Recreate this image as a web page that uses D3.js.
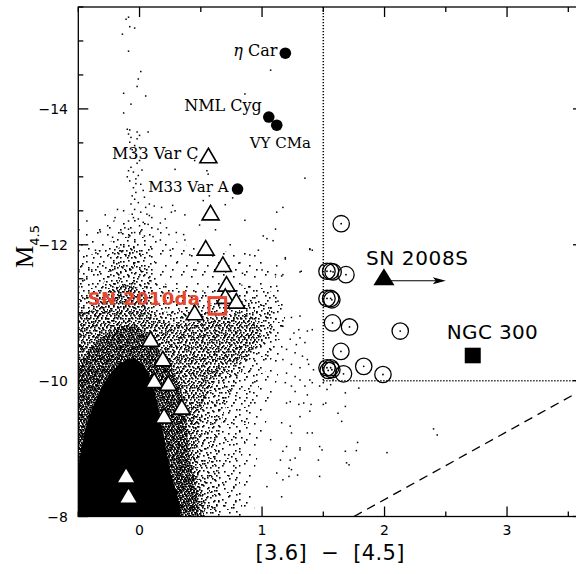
<!DOCTYPE html>
<html><head><meta charset="utf-8">
<script src="https://cdn.jsdelivr.net/npm/d3@7"></script>
<style>html,body{margin:0;padding:0;background:#fff}svg{display:block}</style>
</head><body><svg id="c" width="576" height="574"></svg>
<script>
// ---------------- data ----------------
const xDomain = [-0.5, 3.62];
const yDomain = [-8, -15.5];
const xTicksMajor = [0, 1, 2, 3];
const xTicksMinor = [-0.5, 0.5, 1.5, 2.5, 3.5];
const yTicksMajor = [-8, -10, -12, -14];
const yTicksMinor = [-8.5, -9, -9.5, -10.5, -11, -11.5, -12.5, -13, -13.5, -14.5, -15, -15.5];

// iso-density envelopes of the field-star cloud (data coords), faintest -> solid core
const levelA = [[-0.56,-7.9],[-0.56,-12.25],[-0.38,-12.2],[-0.22,-12.35],[-0.06,-12.45],[0.10,-12.35],[0.25,-12.1],[0.45,-11.95],[0.70,-11.9],[0.95,-11.85],[1.12,-11.5],[1.18,-11.0],[1.17,-10.5],[1.12,-10.0],[1.05,-9.5],[0.98,-9.0],[0.92,-8.5],[0.90,-7.9]];
const levelB = [[-0.56,-7.9],[-0.56,-11.78],[-0.40,-11.85],[-0.22,-12.07],[-0.12,-12.19],[0.09,-12.07],[0.17,-11.48],[0.49,-11.33],[0.90,-11.41],[1.11,-11.26],[1.19,-10.89],[1.11,-10.45],[0.98,-9.94],[0.90,-9.42],[0.82,-8.68],[0.79,-7.9]];
const levelC = [[-0.56,-7.9],[-0.56,-11.19],[-0.36,-11.33],[-0.28,-11.48],[-0.22,-11.85],[-0.12,-12.0],[0.0,-11.92],[0.09,-11.48],[0.17,-11.04],[0.49,-11.11],[0.90,-11.19],[1.08,-11.04],[1.08,-10.67],[0.90,-10.30],[0.74,-9.79],[0.64,-9.13],[0.59,-7.9]];
const levelD = [[-0.56,-7.9],[-0.56,-10.9],[-0.38,-11.05],[-0.26,-11.30],[-0.16,-11.40],[0.0,-11.35],[0.09,-11.0],[0.25,-10.85],[0.58,-10.9],[0.90,-10.95],[1.00,-10.70],[0.86,-10.35],[0.62,-10.0],[0.50,-9.45],[0.48,-8.7],[0.50,-7.9]];
const levelE = [[-0.56,-7.9],[-0.56,-10.0],[-0.44,-10.40],[-0.30,-10.65],[-0.14,-10.80],[0.02,-10.75],[0.14,-10.50],[0.26,-10.2],[0.36,-9.7],[0.40,-9.0],[0.44,-7.9]];
const levelF = [[-0.52,-7.9],[-0.50,-8.7],[-0.44,-9.3],[-0.36,-9.7],[-0.26,-10.05],[-0.14,-10.27],[-0.04,-10.32],[0.05,-10.18],[0.12,-9.85],[0.18,-9.35],[0.24,-8.75],[0.31,-7.9]];

// individual field stars outside the dense cloud
const fieldStars = [
[-0.09,-15.35],[-0.11,-15.32],[-0.08,-15.21],[-0.04,-15.19],[-0.14,-15.10],[-0.09,-14.85],[0.01,-14.55],[-0.01,-14.44],[-0.02,-14.33],[0.05,-14.19],[-0.13,-14.23],[-0.07,-14.07],[-0.13,-13.94],[-0.10,-13.70],[-0.08,-13.69],[-0.02,-13.66],[0.00,-13.61],[0.07,-13.66],[-0.09,-13.63],[-0.07,-13.58],[-0.02,-13.56],[-0.08,-13.51],[-0.04,-13.46],[0.00,-13.43],[-0.05,-13.36],[-0.03,-13.31],[0.00,-13.24],[-0.07,-13.14],[-0.09,-13.09],[-0.05,-13.07],[-0.01,-13.02],[-0.03,-12.97],[-0.08,-12.94],[0.01,-12.89],[-0.05,-12.84],[-0.03,-12.77],[-0.06,-12.72],[-0.04,-12.67],[-0.01,-12.62],[0.08,-12.60],[0.12,-12.57],[-0.18,-12.52],[-0.13,-12.50],[-0.04,-12.52],[0.01,-12.48],[0.06,-12.45],[0.08,-12.43],[-0.05,-12.40],[-0.01,-12.38],[-0.09,-12.35],[0.03,-12.33],[0.07,-12.30],[0.21,-12.38],[0.26,-12.48],[0.29,-12.50],[-0.43,-12.35],[-0.09,-12.23],[-0.04,-12.18],[0.01,-12.20],[0.15,-12.23],[0.22,-12.25],[0.30,-12.18],[0.36,-12.15],[-0.22,-12.11],[-0.09,-12.11],[0.04,-12.13],[0.11,-12.12],
[-0.06,-13.40],[-0.02,-13.20],[-0.10,-13.00],[0.03,-12.80],[-0.07,-12.60],[0.04,-12.70],[-0.12,-12.25],[0.00,-12.28],[0.10,-12.40],[-0.15,-12.18],[0.05,-12.55],[-0.03,-12.90],[0.02,-13.10],[-0.06,-12.45],[0.17,-12.32],[-0.26,-12.28],[-0.20,-12.40],[0.24,-12.15],[0.18,-12.55],
[0.29,-13.11],[0.55,-13.09],[0.56,-13.04],[0.45,-13.24],[0.57,-12.72],[0.52,-12.65],
[1.07,-14.57],[0.86,-14.22],[1.17,-12.55],[1.12,-12.48],[1.11,-12.23],[1.01,-12.13],[1.04,-12.09],[1.19,-11.81],[1.12,-11.69],[1.17,-11.56],[1.12,-11.39],
[1.35,-12.98],[1.39,-11.94],[1.41,-11.92],[1.32,-11.61],
[0.74,-12.00],[0.81,-11.73],[0.84,-11.58],[0.90,-11.85],[0.97,-11.92],[1.00,-11.63],[0.41,-11.85],[0.31,-11.75],[0.25,-11.92],[0.46,-11.63],[0.37,-12.07],[0.62,-12.22],[0.17,-12.07],[0.49,-12.29],[0.86,-12.36],[0.27,-12.58],[0.37,-12.44],[0.70,-12.59],[0.76,-12.69],
[-0.36,-11.92],[-0.32,-12.19],[-0.39,-11.63],[-0.45,-11.48],[-0.28,-12.44],
[1.24,-10.93],[1.31,-10.95],[1.17,-10.80],[1.26,-10.70],[1.30,-10.75],[1.23,-10.61],[1.28,-10.53],[1.20,-10.46],[1.27,-10.41],[1.33,-10.36],[1.17,-10.31],[1.24,-10.24],[1.31,-10.19],[1.38,-10.24],[1.41,-10.75],[1.35,-10.56],[1.20,-10.11],[1.27,-10.06],[1.19,-9.97],[1.24,-9.92],[1.31,-10.01],[1.35,-9.92],[1.41,-9.97],[1.42,-10.16],[1.47,-9.92],[1.50,-9.97],[1.53,-9.87],[1.56,-9.94],[1.58,-10.01],[1.68,-9.82],[1.79,-9.89],[1.37,-9.79],[1.23,-9.69],[1.30,-9.65],[1.40,-9.65],[1.50,-9.65],[1.39,-9.55],[1.62,-9.52],[1.68,-9.62],[1.65,-9.40],[1.16,-9.38],[1.23,-9.33],[1.41,-9.23],[1.31,-8.98],[1.17,-8.96],[1.27,-8.86],[1.22,-8.71],[1.24,-8.69],[1.46,-8.83],[1.49,-8.98],[1.68,-8.96],[1.78,-9.09],[1.77,-8.97],[1.69,-8.79],[1.71,-8.76],[2.02,-8.94],[2.40,-9.29],[2.43,-9.20],[1.29,-8.61],[1.17,-8.54],[1.47,-8.59],
[1.09,-12.06],[1.19,-11.79],[1.31,-11.60],[1.39,-11.93],[1.11,-11.56],[1.16,-11.54],[1.13,-11.17],[1.37,-10.73],[1.31,-10.63],[1.37,-10.31],[1.39,-10.01],[1.27,-9.84],[1.34,-9.67],[1.20,-9.67],[1.31,-9.47],[1.24,-9.23],[1.37,-9.23],[1.07,-9.13],[1.20,-9.03],[1.31,-9.01],[1.15,-8.83],[1.23,-8.83],[1.12,-8.64],[1.22,-8.59],[1.04,-8.44],[1.16,-8.29],[1.52,-9.67],[1.47,-9.03]
];

// labelled comparison objects
const filledCircleNames = ["η Car", "NML Cyg", "VY CMa", "M33 Var A"];
const filledCircleX = [1.19, 1.055, 1.12, 0.80];
const filledCircleY = [-14.82, -13.88, -13.76, -12.82];

const openTriangles = [[0.562,-13.31],[0.58,-12.47],[0.54,-11.95],[0.68,-11.71],[0.71,-11.42],[0.70,-11.24],[0.79,-11.17],[0.45,-11.00],[0.09,-10.61],[0.19,-10.32],[0.12,-10.00],[0.235,-9.96],[0.345,-9.61],[0.20,-9.48]];
const openTriangleLabel = "M33 Var C";
const whiteTriangles = [[-0.11,-8.60],[-0.09,-8.30]];

const openCircles = [[1.646,-12.31],[1.53,-11.61],[1.56,-11.61],[1.58,-11.60],[1.685,-11.56],[1.53,-11.21],[1.56,-11.21],[1.57,-11.19],[1.575,-10.85],[1.714,-10.79],[2.128,-10.73],[1.644,-10.43],[1.83,-10.21],[1.987,-10.09],[1.665,-10.10],[1.53,-10.19],[1.56,-10.19],[1.54,-10.15],[1.57,-10.16]];

const sn2008s = {name: "SN 2008S", x: 1.995, y: -11.52, arrowY: -11.47, arrowTo: 2.5};
const ngc300 = {name: "NGC 300", x: 2.72, y: -10.37};
const sn2010da = {name: "SN 2010da", x: 0.635, y: -11.10};

const colourCut = 1.5, magCut = -10;
const dashedLine = [[1.75, -8], [3.62, -9.87]];

// ---------------- drawing ----------------
const svg = d3.select("#c");
const L = 78.3, R = 583, T = 7, B = 516.5;
const x = d3.scaleLinear().domain(xDomain).range([L, R]);
const y = d3.scaleLinear().domain(yDomain).range([B, T]);

const defs = svg.append("defs");
defs.append("clipPath").attr("id", "clip").append("rect")
  .attr("x", L).attr("y", T).attr("width", R - L).attr("height", B - T);

function makePattern(id, size, pts, ds) {
  const p = defs.append("pattern").attr("id", id).attr("patternUnits", "userSpaceOnUse")
    .attr("width", size).attr("height", size);
  pts.forEach(q => p.append("rect").attr("x", q[0]).attr("y", q[1]).attr("width", ds).attr("height", ds).attr("fill", "#000"));
}
makePattern("pA", 21, [[2,3],[13,1],[8,10],[18,13],[4,17],[15,19]], 1.6);
makePattern("pB", 17, [[1,6],[8,2],[14,8],[10,14],[3,12],[15,1],[6,16],[12,11]], 1.6);
makePattern("pC", 15, [[0,2],[5,0],[11,2],[3,6],[8,5],[13,7],[1,11],[6,10],[12,12],[4,14],[9,13],[14,10]], 1.6);
makePattern("pD", 12, [[0,0],[4,1],[8,0],[10,3],[2,3],[6,3],[5,6],[0,6],[9,6],[3,8],[7,9],[11,9],[1,10],[5,11],[9,11],[11,1]], 1.6);
makePattern("pE", 10, [[0,0],[3,0],[6,0],[8,1],[1,2],[4,2],[7,3],[9,3],[2,4],[5,4],[0,5],[8,5],[3,6],[6,6],[1,7],[9,7],[4,8],[7,8],[0,9],[2,9],[5,9],[8,9],[6,1],[2,6]], 1.6);

const plot = svg.append("g").attr("clip-path", "url(#clip)");
const outline = d3.line().x(d => x(d[0])).y(d => y(d[1])).curve(d3.curveCatmullRomClosed.alpha(0.5));
[[levelA, "url(#pA)"], [levelB, "url(#pB)"], [levelC, "url(#pC)"], [levelD, "url(#pD)"], [levelE, "url(#pE)"], [levelF, "#000"]]
  .forEach(([o, f]) => plot.append("path").attr("d", outline(o)).attr("fill", f));

plot.selectAll("rect.star").data(fieldStars).join("rect").attr("class", "star")
  .attr("x", d => x(d[0]) - 0.75).attr("y", d => y(d[1]) - 0.75)
  .attr("width", 1.5).attr("height", 1.5).attr("fill", "#000");

// selection boundaries
plot.append("line").attr("x1", x(colourCut)).attr("x2", x(colourCut)).attr("y1", y(yDomain[1])).attr("y2", y(magCut))
  .attr("stroke", "#000").attr("stroke-width", 1.5).attr("stroke-dasharray", "1.2,1.8");
plot.append("line").attr("x1", x(colourCut)).attr("x2", x(xDomain[1])).attr("y1", y(magCut)).attr("y2", y(magCut))
  .attr("stroke", "#000").attr("stroke-width", 1.5).attr("stroke-dasharray", "1.2,1.8");
plot.append("path").attr("d", d3.line().x(d => x(d[0])).y(d => y(d[1]))(dashedLine))
  .attr("stroke", "#000").attr("stroke-width", 1.3).attr("fill", "none").attr("stroke-dasharray", "9,6");

// markers
const tri = "M0,-7.5L8.5,7L-8.5,7Z";
plot.selectAll("path.otri").data(openTriangles).join("path").attr("class", "otri")
  .attr("d", tri).attr("transform", d => `translate(${x(d[0])},${y(d[1])})`)
  .attr("fill", "#fff").attr("stroke", "#000").attr("stroke-width", 1.6).attr("stroke-linejoin", "miter");
plot.selectAll("path.wtri").data(whiteTriangles).join("path").attr("class", "wtri")
  .attr("d", "M0,-7L8,6.5L-8,6.5Z").attr("transform", d => `translate(${x(d[0])},${y(d[1])})`)
  .attr("fill", "#fff");

plot.selectAll("circle.oc").data(openCircles).join("circle").attr("class", "oc")
  .attr("cx", d => x(d[0])).attr("cy", d => y(d[1])).attr("r", 8.2)
  .attr("fill", "none").attr("stroke", "#000").attr("stroke-width", 1.3);
plot.selectAll("circle.ocd").data(openCircles).join("circle").attr("class", "ocd")
  .attr("cx", d => x(d[0])).attr("cy", d => y(d[1])).attr("r", 0.9).attr("fill", "#000");

filledCircleX.forEach((v, i) => {
  plot.append("circle").attr("cx", x(v)).attr("cy", y(filledCircleY[i])).attr("r", 5.8).attr("fill", "#000");
});

// SN 2008S with lower-limit arrow
const ax0 = x(sn2008s.x), ax1 = x(sn2008s.arrowTo), ay = y(sn2008s.arrowY);
plot.append("line").attr("x1", ax0).attr("x2", ax1 - 4).attr("y1", ay).attr("y2", ay).attr("stroke", "#000").attr("stroke-width", 1.2);
plot.append("path").attr("d", `M${ax1},${ay}L${ax1 - 13},${ay - 3.5}L${ax1 - 10},${ay}L${ax1 - 13},${ay + 3.5}Z`).attr("fill", "#000");
plot.append("path").attr("d", "M0,-9L10.5,8L-10.5,8Z").attr("transform", `translate(${x(sn2008s.x)},${y(sn2008s.y)})`).attr("fill", "#000");

plot.append("rect").attr("x", x(ngc300.x) - 8).attr("y", y(ngc300.y) - 7.8).attr("width", 16).attr("height", 15.6).attr("fill", "#000");

plot.append("rect").attr("x", x(sn2010da.x) - 8.3).attr("y", y(sn2010da.y) - 8.3).attr("width", 16.6).attr("height", 16.6)
  .attr("fill", "none").attr("stroke", "#e8472f").attr("stroke-width", 3);

// labels
const serif = "'DejaVu Serif', serif", sans = "'DejaVu Sans', sans-serif";
function lab(txt, px, py, anchor, font, size, opts = {}) {
  const t = svg.append("text").attr("x", px).attr("y", py).attr("text-anchor", anchor)
    .attr("font-family", font).attr("font-size", size).attr("fill", opts.fill || "#000");
  if (opts.weight) t.attr("font-weight", opts.weight);
  if (opts.len) t.attr("textLength", opts.len).attr("lengthAdjust", "spacing");
  return t;
}
{
  const t = lab("", x(filledCircleX[0]) - 8, y(filledCircleY[0]) + 2.5, "end", serif, 16);
  t.append("tspan").attr("font-style", "italic").text("η");
  t.append("tspan").text(" Car");
}
lab(filledCircleNames[1], x(filledCircleX[1]) - 7, y(filledCircleY[1]) - 6, "end", serif, 16).text(filledCircleNames[1]);
lab(filledCircleNames[2], x(filledCircleX[2]) - 27, y(filledCircleY[2]) + 23, "start", serif, 15).text(filledCircleNames[2]);
lab(filledCircleNames[3], x(filledCircleX[3]) - 9, y(filledCircleY[3]) + 2.5, "end", serif, 15).text(filledCircleNames[3]);
lab(openTriangleLabel, x(openTriangles[0][0]) - 10, y(openTriangles[0][1]) + 3, "end", serif, 16).text(openTriangleLabel);
lab(sn2008s.name, x(sn2008s.x) - 18, y(sn2008s.y) - 12, "start", sans, 20, {len: 102}).text(sn2008s.name);
lab(ngc300.name, x(ngc300.x) - 26, y(ngc300.y) - 16, "start", sans, 20, {len: 91}).text(ngc300.name);
lab(sn2010da.name, x(sn2010da.x) - 17.5, y(sn2010da.y) - 0.5, "end", sans, 18, {weight: "bold", fill: "#e8472f", len: 112}).text(sn2010da.name);

// frame and ticks
const frame = svg.append("g").attr("stroke", "#000").attr("stroke-width", 1.3);
frame.append("rect").attr("x", L).attr("y", T).attr("width", R - L).attr("height", B - T).attr("fill", "none");
const tk = (x1, y1, x2, y2) => frame.append("line").attr("x1", x1).attr("y1", y1).attr("x2", x2).attr("y2", y2);
xTicksMajor.forEach(v => { tk(x(v), B, x(v), B - 10); tk(x(v), T, x(v), T + 10); });
xTicksMinor.forEach(v => { tk(x(v), B, x(v), B - 5); tk(x(v), T, x(v), T + 5); });
yTicksMajor.forEach(v => { tk(L, y(v), L + 10, y(v)); tk(R, y(v), R - 10, y(v)); });
yTicksMinor.forEach(v => { tk(L, y(v), L + 5, y(v)); tk(R, y(v), R - 5, y(v)); });

const fmt = v => (v < 0 ? "\u2212" : "") + Math.abs(v);
xTicksMajor.forEach(v => lab("", x(v), 534.5, "middle", sans, 14).text(fmt(v)));
yTicksMajor.forEach(v => lab("", 68, y(v) + 5, "end", sans, 14).text(fmt(v)));

// axis titles
lab("", 330, 560, "middle", sans, 21, {len: 149}).attr("xml:space", "preserve").text("[3.6]  \u2212  [4.5]");
const yt = svg.append("text").attr("transform", "translate(33,268) rotate(-90)").attr("text-anchor", "start")
  .attr("font-family", "'Liberation Serif', serif").attr("font-size", 25);
yt.append("tspan").text("M");
yt.append("tspan").attr("font-family", sans).attr("font-size", 13).attr("dy", 6).text("4.5");
</script></body></html>
